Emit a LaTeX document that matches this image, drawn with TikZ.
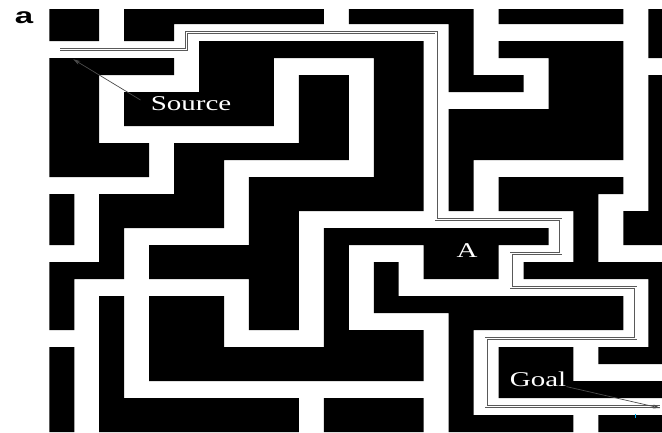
\documentclass[tikz,border=0pt]{standalone}
\usepackage{fontspec}
\setmainfont{Liberation Serif}
\newfontfamily\labelsans{Liberation Sans}
\usetikzlibrary{arrows.meta}
\begin{document}
\begin{tikzpicture}[x=1pt,y=-1pt,
  wall/.style={fill=black},
  route/.style={draw=black!65, line width=0.8pt, double=white, double distance=1.4pt},
  pointer/.style={draw=black!70, line width=0.7pt, -{Stealth[length=7pt,width=4pt]}},
  mazelabel/.style={text=white, font=\fontsize{21}{21}\selectfont, inner sep=0pt, xscale=1.38}]
\useasboundingbox (0,0) rectangle (662,432);
\fill[white] (0,0) rectangle (662,432);
\begin{scope}[xshift=49.3pt, yshift=-7pt, x=24.96pt, y=-17pt]
  \begin{scope}
    \clip (0,0.118) rectangle (24.55,25);
    \fill[wall]
      (0,0) rectangle (2,1) (3,0) rectangle (11,1) (12,0) rectangle (17,1) (18,0) rectangle (23,1) (24,0) rectangle (25,1)
      (0,1) rectangle (2,2) (3,1) rectangle (5,2) (16,1) rectangle (17,2) (24,1) rectangle (25,2)
      (6,2) rectangle (15,3) (16,2) rectangle (17,3) (18,2) rectangle (23,3) (24,2) rectangle (25,3)
      (0,3) rectangle (5,4) (6,3) rectangle (9,4) (13,3) rectangle (15,4) (16,3) rectangle (17,4) (20,3) rectangle (23,4)
      (0,4) rectangle (2,5) (6,4) rectangle (9,5) (10,4) rectangle (12,5) (13,4) rectangle (15,5) (16,4) rectangle (19,5) (20,4) rectangle (23,5) (24,4) rectangle (25,5)
      (0,5) rectangle (2,6) (3,5) rectangle (9,6) (10,5) rectangle (12,6) (13,5) rectangle (15,6) (20,5) rectangle (23,6) (24,5) rectangle (25,6)
      (0,6) rectangle (2,7) (3,6) rectangle (9,7) (10,6) rectangle (12,7) (13,6) rectangle (15,7) (16,6) rectangle (23,7) (24,6) rectangle (25,7)
      (0,7) rectangle (2,8) (10,7) rectangle (12,8) (13,7) rectangle (15,8) (16,7) rectangle (23,8) (24,7) rectangle (25,8)
      (0,8) rectangle (4,9) (5,8) rectangle (12,9) (13,8) rectangle (15,9) (16,8) rectangle (23,9) (24,8) rectangle (25,9)
      (0,9) rectangle (4,10) (5,9) rectangle (7,10) (13,9) rectangle (15,10) (16,9) rectangle (17,10) (24,9) rectangle (25,10)
      (5,10) rectangle (7,11) (8,10) rectangle (15,11) (16,10) rectangle (17,11) (18,10) rectangle (23,11) (24,10) rectangle (25,11)
      (0,11) rectangle (1,12) (2,11) rectangle (7,12) (8,11) rectangle (15,12) (16,11) rectangle (17,12) (18,11) rectangle (22,12) (24,11) rectangle (25,12)
      (0,12) rectangle (1,13) (2,12) rectangle (7,13) (8,12) rectangle (10,13) (21,12) rectangle (22,13) (23,12) rectangle (25,13)
      (0,13) rectangle (1,14) (2,13) rectangle (3,14) (8,13) rectangle (10,14) (11,13) rectangle (20,14) (21,13) rectangle (22,14) (23,13) rectangle (25,14)
      (2,14) rectangle (3,15) (4,14) rectangle (10,15) (11,14) rectangle (12,15) (15,14) rectangle (18,15) (21,14) rectangle (22,15)
      (0,15) rectangle (3,16) (4,15) rectangle (10,16) (11,15) rectangle (12,16) (13,15) rectangle (14,16) (15,15) rectangle (18,16) (19,15) rectangle (25,16)
      (0,16) rectangle (1,17) (8,16) rectangle (10,17) (11,16) rectangle (12,17) (13,16) rectangle (14,17) (24,16) rectangle (25,17)
      (0,17) rectangle (1,18) (2,17) rectangle (3,18) (4,17) rectangle (7,18) (8,17) rectangle (10,18) (11,17) rectangle (12,18) (13,17) rectangle (23,18) (24,17) rectangle (25,18)
      (0,18) rectangle (1,19) (2,18) rectangle (3,19) (4,18) rectangle (7,19) (8,18) rectangle (10,19) (11,18) rectangle (12,19) (16,18) rectangle (23,19) (24,18) rectangle (25,19)
      (2,19) rectangle (3,20) (4,19) rectangle (7,20) (11,19) rectangle (15,20) (16,19) rectangle (17,20) (24,19) rectangle (25,20)
      (0,20) rectangle (1,21) (2,20) rectangle (3,21) (4,20) rectangle (15,21) (16,20) rectangle (17,21) (18,20) rectangle (21,21) (22,20) rectangle (25,21)
      (0,21) rectangle (1,22) (2,21) rectangle (3,22) (4,21) rectangle (15,22) (16,21) rectangle (17,22) (18,21) rectangle (21,22)
      (0,22) rectangle (1,23) (2,22) rectangle (3,23) (16,22) rectangle (17,23) (18,22) rectangle (25,23)
      (0,23) rectangle (1,24) (2,23) rectangle (10,24) (11,23) rectangle (15,24) (16,23) rectangle (17,24)
      (0,24) rectangle (1,25) (2,24) rectangle (10,25) (11,24) rectangle (15,25) (16,24) rectangle (21,25) (22,24) rectangle (25,25);
  \end{scope}
  \coordinate (pstart) at (0.43,2.5);
  \coordinate (pend) at (24.45,23.5);
  \draw[route] (pstart) -- (5.5,2.5) -- (5.5,1.5) -- (15.5,1.5) -- (15.5,12.5) -- (20.5,12.5)
    -- (20.5,14.5) -- (18.5,14.5) -- (18.5,16.5) -- (23.5,16.5) -- (23.5,19.5) -- (17.5,19.5)
    -- (17.5,23.5) -- (pend);
\end{scope}
\node[mazelabel] (src) at (191,104) {Source};
\node[mazelabel] (pa) at (467,251) {A};
\node[mazelabel] (goal) at (538,379) {Goal};
\node[font=\labelsans\bfseries\fontsize{22}{22}\selectfont, xscale=1.5, inner sep=0pt] (tag) at (24,18) {a};
\coordinate (srctip) at (73.3,59.3);
\coordinate (goaltip) at (660,408);
\draw[pointer] ([xshift=-10pt,yshift=4pt]src.west) -- (srctip);
\draw[pointer] (goal.south east) -- (goaltip);
\draw[cyan, line width=1pt] (635.7,414) -- (635.7,418);
\end{tikzpicture}
\end{document}
